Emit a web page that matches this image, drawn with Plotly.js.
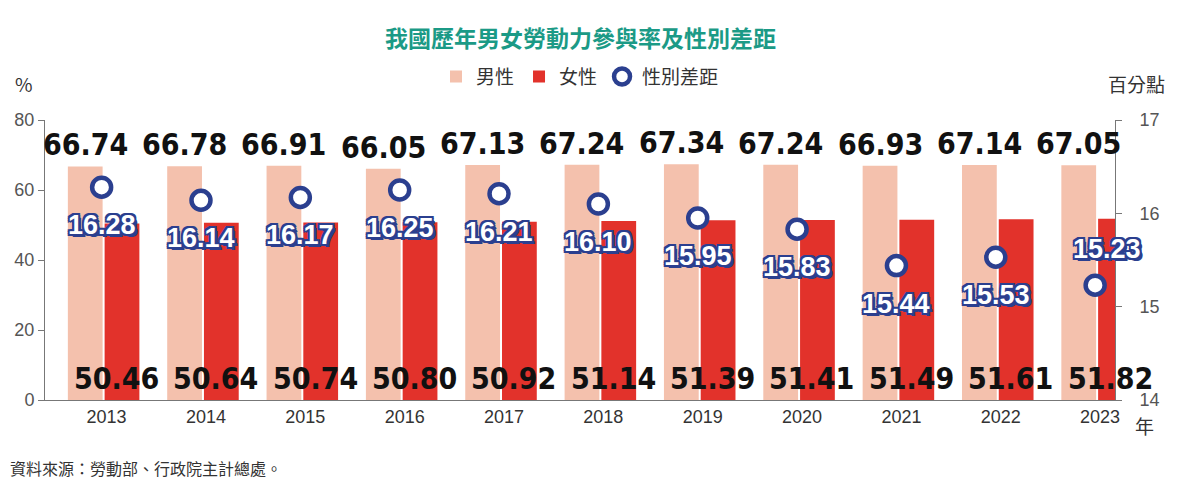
<!DOCTYPE html>
<html><head><meta charset="utf-8">
<script src="https://cdn.plot.ly/plotly-3.0.1.min.js"></script>
<style>body{margin:0;background:#fff}#chart{width:1191px;height:487px}</style>
</head><body><div id="chart"></div>
<script>
const years = ['2013','2014','2015','2016','2017','2018','2019','2020','2021','2022','2023'];
const male = [66.74, 66.78, 66.91, 66.05, 67.13, 67.24, 67.34, 67.24, 66.93, 67.14, 67.05];
const female = [50.46, 50.64, 50.74, 50.80, 50.92, 51.14, 51.39, 51.41, 51.49, 51.61, 51.82];
const gap = [16.28, 16.14, 16.17, 16.25, 16.21, 16.10, 15.95, 15.83, 15.44, 15.53, 15.23];

const idx = years.map((_, i) => i);
const numFont = { family: 'DejaVu Sans Condensed, Liberation Sans Narrow, sans-serif', size: 30, color: '#111' };
const navy = '#2b3f8f';

const traces = [
  { type: 'bar', name: '男性', x: idx, y: male, width: 0.35, offset: -0.39,
    marker: { color: '#f4c1ad' }, hoverinfo: 'skip' },
  { type: 'bar', name: '女性', x: idx, y: female, width: 0.35, offset: -0.02,
    marker: { color: '#e2322b' }, hoverinfo: 'skip' },
  { type: 'scatter', mode: 'markers', name: '性別差距', x: idx.map(i => i - 0.05), y: gap, yaxis: 'y2',
    marker: { color: 'white', size: 19, line: { color: navy, width: 4.5 } }, hoverinfo: 'skip' }
];

const annotations = [];
idx.forEach(i => {
  annotations.push({ x: i - 0.215, y: male[i], xref: 'x', yref: 'y', text: '<b>' + male[i].toFixed(2) + '</b>',
    showarrow: false, yanchor: 'bottom', yshift: 2, font: numFont });
  annotations.push({ x: i + 0.1, y: 0, xref: 'x', yref: 'y', text: '<b>' + female[i].toFixed(2) + '</b>',
    showarrow: false, yanchor: 'bottom', yshift: 2, xanchor: 'center', font: numFont });
  const last = i === idx.length - 1;
  annotations.push({ x: i - 0.05, y: gap[i], xref: 'x', yref: 'y2', text: '<b>' + gap[i].toFixed(2) + '</b>',
    showarrow: false, yshift: last ? 36 : -38, xshift: last ? 12 : 0,
    font: { family: 'Liberation Sans, Arial, sans-serif', size: 27, color: 'white',
      shadow: `2px 0 0 ${navy}, -2px 0 0 ${navy}, 0 2px 0 ${navy}, 0 -2px 0 ${navy}, 2px 2px 0 ${navy}, -2px -2px 0 ${navy}, 2px -2px 0 ${navy}, -2px 2px 0 ${navy}, 3px 3px 0 ${navy}` } });
});
const labelFont = { size: 19, color: '#333', family: 'Noto Sans CJK TC' };
annotations.push(
  { xref: 'paper', yref: 'paper', x: 0.5, y: 1, yshift: 83, yanchor: 'middle', text: '<b>我國歷年男女勞動力參與率及性別差距</b>', showarrow: false,
    font: { size: 23, color: '#1b9a86', family: 'Noto Sans CJK TC' } },
  { xref: 'paper', yref: 'paper', x: -0.02, y: 1, yshift: 37, yanchor: 'middle', xanchor: 'center', text: '%', showarrow: false, font: labelFont },
  { xref: 'paper', yref: 'paper', x: 1.02, y: 1, yshift: 37, yanchor: 'middle', xanchor: 'center', text: '百分點', showarrow: false, font: labelFont },
  { xref: 'paper', yref: 'paper', x: 1.028, y: 0, yshift: -25, yanchor: 'middle', xanchor: 'center', text: '年', showarrow: false, font: labelFont },
  { xref: 'paper', yref: 'paper', x: -0.035, y: 0, yshift: -68, yanchor: 'middle', xanchor: 'left', text: '資料來源：勞動部、行政院主計總處。', showarrow: false,
    font: { size: 16, color: '#333', family: 'Noto Sans CJK TC' } }
);

const axisGray = '#777';
const layout = {
  width: 1191, height: 487,
  margin: { l: 45, r: 76, t: 120, b: 87 },
  paper_bgcolor: 'white', plot_bgcolor: 'white',
  font: { family: 'Noto Sans CJK TC, sans-serif', color: '#333' },
  showlegend: true,
  legend: { orientation: 'h', x: 0.5, xanchor: 'center', y: 1.155, yanchor: 'middle', yref: 'paper',
    font: { size: 19, color: '#333' }, traceorder: 'normal' },
  xaxis: { range: [-0.62, 10.15], tickvals: idx, ticktext: years, showgrid: false, zeroline: false,
    showline: true, linecolor: axisGray, ticks: '', tickfont: { size: 18, color: '#333', family: 'Liberation Sans' } },
  yaxis: { range: [0, 80], dtick: 20, showgrid: false, zeroline: false, showline: true, linecolor: axisGray,
    ticks: 'outside', ticklen: 6, tickcolor: axisGray, tickfont: { size: 18, color: '#555', family: 'Liberation Sans' } },
  yaxis2: { overlaying: 'y', side: 'right', range: [14, 17], dtick: 1, showgrid: false, zeroline: false,
    showline: true, linecolor: axisGray, ticks: 'outside', ticklen: 6, tickcolor: axisGray, ticklabelstandoff: 14,
    tickfont: { size: 18, color: '#555', family: 'Liberation Sans' } },
  annotations
};

Plotly.newPlot('chart', traces, layout, { displayModeBar: false, staticPlot: true });
</script></body></html>
